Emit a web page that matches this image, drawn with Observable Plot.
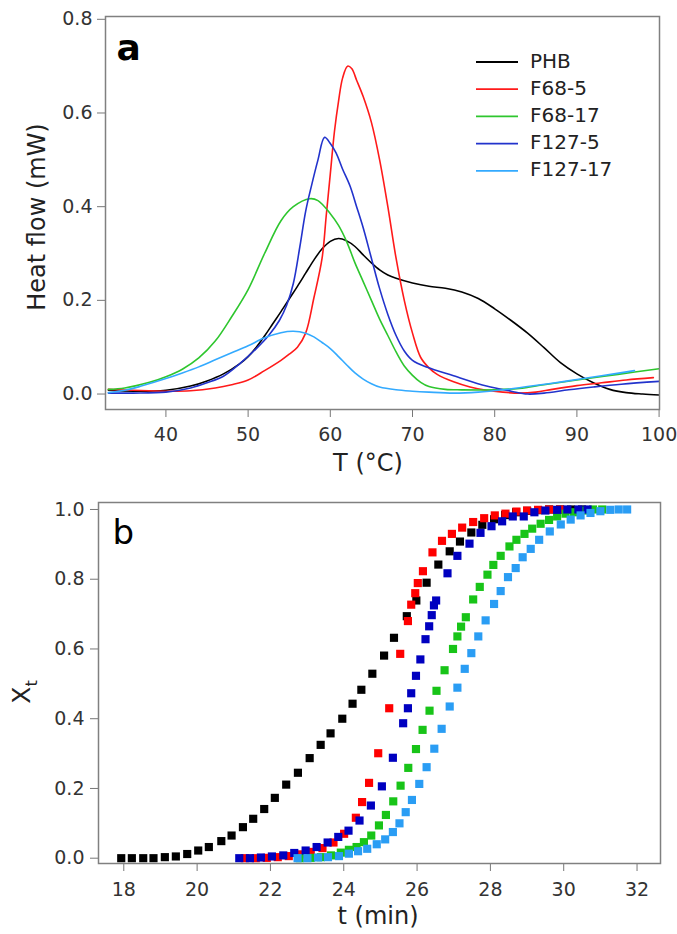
<!DOCTYPE html>
<html><head><meta charset="utf-8">
<script src="https://cdn.jsdelivr.net/npm/d3@7"></script>
<script src="https://cdn.jsdelivr.net/npm/@observablehq/plot@0.6"></script>
<style>
body{margin:0;background:#fff;font-family:"DejaVu Sans",sans-serif}
#wrap{position:relative;width:677px;height:934px;overflow:hidden}
#wrap svg{position:absolute;left:0;overflow:visible}
</style></head>
<body><div id="wrap"></div>
<script>
// ---------- Panel a: DSC heat flow curves ----------
const seriesNames = ["PHB", "F68-5", "F68-17", "F127-5", "F127-17"];
const lineColors = ["#000000", "#ff1a1a", "#2ec62e", "#2233cc", "#33aaff"];
const dotColors = ["#000000", "#ff0000", "#18c418", "#0000c0", "#2a9df4"];

const phbT  = [33,36,40,43,45,47,49,50,51,52,53,54,55,56,57,58,59,60,61,62,63,64,65,66,67,68,70,72,74,76,78,80,82,84,86,88,90,92,94,96,98,100];
const phbHF = [0.008,0.006,0.008,0.017,0.028,0.043,0.065,0.08,0.1,0.124,0.15,0.176,0.203,0.23,0.258,0.286,0.31,0.326,0.332,0.327,0.315,0.297,0.28,0.265,0.254,0.247,0.237,0.23,0.226,0.218,0.204,0.182,0.157,0.13,0.099,0.067,0.043,0.024,0.01,0.003,0.0,-0.002];

const f685T  = [33,36,40,43,46,48,50,52,54,55,56,57,58,59,59.5,60,60.5,61,61.5,62.1,62.6,63.2,64,65,66,67,68,69,70,71,72,73,75,77,79,81,83,85,87,90,93,96,99.3];
const f685HF = [0.01,0.008,0.006,0.007,0.013,0.02,0.03,0.05,0.072,0.085,0.1,0.13,0.205,0.29,0.38,0.47,0.56,0.625,0.675,0.7,0.695,0.67,0.635,0.58,0.5,0.4,0.29,0.2,0.13,0.078,0.056,0.042,0.026,0.015,0.008,0.004,0.002,0.004,0.01,0.018,0.024,0.03,0.035];

const f6817T  = [33,35,38,40,42,44,46,48,50,52,54,55.5,57.5,58.5,60,61,62,63,64,65,66,67,68,69,70,71,72,74,76,80,83,86,90,95,100];
const f6817HF = [0.01,0.013,0.025,0.037,0.053,0.077,0.113,0.165,0.223,0.3,0.37,0.4,0.417,0.413,0.385,0.36,0.325,0.28,0.24,0.2,0.16,0.125,0.09,0.06,0.04,0.025,0.016,0.01,0.009,0.009,0.012,0.02,0.03,0.042,0.054];

const f1275T  = [33,36,40,43,45,47,49,51,52.5,53.8,54.7,55.5,56.3,57,57.7,58.5,59.3,60,60.7,61.5,62.4,63.2,64,65,66,67,68,69,70,71.8,75,79,82,84,86,89,92,95.4,100];
const f1275HF = [0.002,0.002,0.004,0.013,0.024,0.038,0.065,0.097,0.125,0.157,0.19,0.236,0.315,0.39,0.444,0.5,0.548,0.535,0.515,0.48,0.444,0.4,0.355,0.29,0.225,0.17,0.125,0.092,0.072,0.057,0.039,0.017,0.006,0.0,0.002,0.009,0.015,0.021,0.027];

const f12717T  = [33,35,37,40,42,44,46,48,50,52,54,55.5,57,58,59,60,61,62,63,64,65,66,68,70,72,75,78,81,84,87,90,93,97];
const f12717HF = [0.003,0.008,0.017,0.033,0.045,0.058,0.073,0.088,0.103,0.12,0.131,0.134,0.13,0.122,0.11,0.097,0.08,0.062,0.045,0.032,0.022,0.015,0.009,0.006,0.004,0.002,0.004,0.009,0.016,0.023,0.031,0.039,0.05];

const xTicksA = [40, 50, 60, 70, 80, 90, 100];
const yTicksA = [0.0, 0.2, 0.4, 0.6, 0.8];

// ---------- Panel b: relative crystallinity Xt vs time ----------
const phbTime = [17.93,18.22,18.53,18.81,19.12,19.42,19.73,20.03,20.32,20.66,20.94,21.25,21.53,21.83,22.12,22.43,22.75,23.07,23.37,23.64,23.96,24.24,24.48,24.78,25.1,25.37,25.72,25.98,26.26,26.58,26.89,27.17,27.48,27.78,28.1,28.4,28.7,29.0,29.3,29.6,29.9,30.2,30.5];
const phbXt   = [0,0,0,0,0.003,0.005,0.012,0.022,0.032,0.049,0.065,0.089,0.113,0.141,0.173,0.211,0.245,0.287,0.325,0.358,0.4,0.443,0.483,0.529,0.581,0.632,0.694,0.739,0.79,0.842,0.88,0.908,0.934,0.956,0.972,0.984,0.992,0.996,0.998,1,1,1,1];

const f685Time = [21.3,21.6,21.9,22.2,22.5,22.8,23.1,23.42,23.72,24.01,24.33,24.5,24.69,24.94,25.24,25.54,25.75,25.84,25.95,26.02,26.16,26.42,26.68,26.95,27.23,27.53,27.83,28.12,28.41,28.71,29.0,29.3,29.6,29.9];
const f685Xt   = [0,0,0.001,0.003,0.006,0.011,0.018,0.029,0.045,0.07,0.116,0.161,0.216,0.301,0.43,0.586,0.68,0.727,0.76,0.789,0.823,0.877,0.91,0.93,0.948,0.964,0.975,0.983,0.988,0.994,0.997,0.999,1,1];

const f6817Time = [22.8,23.1,23.38,23.65,23.92,24.14,24.35,24.55,24.75,24.96,25.15,25.35,25.55,25.76,25.97,26.15,26.34,26.53,26.75,26.98,27.1,27.2,27.33,27.53,27.71,27.92,28.08,28.28,28.52,28.71,28.93,29.14,29.37,29.6,29.82,30.05,30.28,30.55,30.8,31.05];
const f6817Xt   = [0,0.001,0.003,0.008,0.016,0.024,0.032,0.046,0.065,0.094,0.124,0.163,0.208,0.259,0.313,0.368,0.423,0.48,0.539,0.6,0.636,0.664,0.691,0.742,0.778,0.813,0.841,0.867,0.894,0.913,0.93,0.945,0.959,0.97,0.98,0.988,0.992,0.997,1,1];

const f1275Time = [21.15,21.44,21.74,22.04,22.35,22.65,22.96,23.26,23.56,23.85,24.13,24.43,24.74,25.04,25.34,25.62,25.75,25.84,25.97,26.09,26.23,26.33,26.4,26.46,26.52,26.83,27.1,27.43,27.73,28.03,28.32,28.61,28.91,29.2,29.5,29.82,30.1,30.4,30.65];
const f1275Xt   = [0,0,0.002,0.005,0.008,0.015,0.022,0.032,0.045,0.061,0.079,0.108,0.151,0.206,0.288,0.387,0.43,0.473,0.523,0.57,0.628,0.665,0.697,0.725,0.739,0.817,0.867,0.902,0.933,0.952,0.966,0.98,0.98,0.992,0.997,0.999,1,1,1];

const f12717Time = [22.74,23.01,23.3,23.57,23.87,24.14,24.39,24.64,24.9,25.13,25.34,25.52,25.69,25.86,26.06,26.26,26.47,26.67,26.89,27.1,27.3,27.48,27.67,27.87,28.1,28.28,28.48,28.69,28.88,29.1,29.33,29.62,29.92,30.19,30.46,30.73,31.0,31.27,31.5,31.73];
const f12717Xt   = [0,0,0.002,0.003,0.006,0.013,0.02,0.027,0.04,0.054,0.075,0.1,0.132,0.167,0.213,0.261,0.314,0.371,0.435,0.489,0.543,0.588,0.636,0.682,0.729,0.766,0.806,0.832,0.863,0.887,0.913,0.937,0.957,0.971,0.983,0.99,0.995,0.999,1,1];

const xTicksB = [18, 20, 22, 24, 26, 28, 30, 32];
const yTicksB = [0.0, 0.2, 0.4, 0.6, 0.8, 1.0];

// ---------- build tables ----------
const curveT = [phbT, f685T, f6817T, f1275T, f12717T];
const curveV = [phbHF, f685HF, f6817HF, f1275HF, f12717HF];
const rowsA = [];
seriesNames.forEach((s, i) => curveT[i].forEach((t, j) => rowsA.push({series: s, T: t, v: curveV[i][j]})));

const ptT = [phbTime, f685Time, f6817Time, f1275Time, f12717Time];
const ptX = [phbXt, f685Xt, f6817Xt, f1275Xt, f12717Xt];
const rowsB = [];
seriesNames.forEach((s, i) => ptT[i].forEach((t, j) => rowsB.push({series: s, t: t, x: ptX[i][j]})));

const FONT = "DejaVu Sans";
const wrap = document.getElementById("wrap");

// ---------- Panel a ----------
const HA = 480;
const chartA = Plot.plot({
  width: 677, height: HA,
  marginLeft: 105, marginRight: 18, marginTop: 16, marginBottom: 71,
  style: {fontFamily: FONT, fontSize: "19px", color: "#333", background: "transparent"},
  x: {domain: [32.65, 100.05], label: null},
  y: {domain: [-0.033, 0.806], label: null},
  color: {domain: seriesNames, range: lineColors},
  marks: [
    Plot.axisX({ticks: xTicksA, tickSize: 8, tickPadding: 10, stroke: "#777", tickFormat: d => String(d), label: null}),
    Plot.axisY({ticks: yTicksA, tickSize: 8, tickPadding: 5, stroke: "#777", tickFormat: d => d.toFixed(1), label: null}),
    Plot.line(rowsA, {x: "T", y: "v", z: "series", stroke: "series", curve: "catmull-rom", strokeWidth: 1.6}),
    Plot.frame({stroke: "#808080", strokeWidth: 1.5}),
    Plot.text(["a"], {frameAnchor: "top-left", textAnchor: "start", lineAnchor: "bottom", dx: 11, dy: 43, fontSize: 36, fontWeight: "bold", fill: "#000"})
  ]
});
chartA.style.top = "0px";
wrap.appendChild(chartA);

const svgA = d3.select(chartA);
svgA.append("text").attr("transform", "translate(38,217) rotate(-90)").attr("text-anchor", "middle")
  .attr("dominant-baseline", "middle").attr("font-family", FONT).attr("font-size", 24).attr("fill", "#222").text("Heat flow (mW)");
svgA.append("text").attr("x", 368).attr("y", 471).attr("text-anchor", "middle")
  .attr("font-family", FONT).attr("font-size", 24).attr("fill", "#222").text("T (°C)");
const leg = svgA.append("g").attr("text-anchor", "start");
seriesNames.forEach((s, i) => {
  const y = 62 + i * 27.2;
  leg.append("line").attr("x1", 476).attr("x2", 518).attr("y1", y).attr("y2", y)
    .attr("stroke", lineColors[i]).attr("stroke-width", 1.8);
  leg.append("text").attr("x", 530).attr("y", y).attr("dominant-baseline", "middle").attr("text-anchor", "start")
    .attr("font-family", FONT).attr("font-size", 20).attr("fill", "#222").text(s);
});

// ---------- Panel b ----------
const TOPB = 480, HB = 934 - TOPB;
const chartB = Plot.plot({
  width: 677, height: HB,
  marginLeft: 98, marginRight: 17, marginTop: 22, marginBottom: 71,
  style: {fontFamily: FONT, fontSize: "19px", color: "#333", background: "transparent"},
  x: {domain: [17.31, 32.64], label: null},
  y: {domain: [-0.0152, 1.02], label: null},
  color: {domain: seriesNames, range: dotColors},
  marks: [
    Plot.axisX({ticks: xTicksB, tickSize: 8, tickPadding: 11, stroke: "#777", tickFormat: d => String(d), label: null}),
    Plot.axisY({ticks: yTicksB, tickSize: 8, tickPadding: 6, stroke: "#777", tickFormat: d => d.toFixed(1), label: null}),
    Plot.dot(rowsB, {x: "t", y: "x", fill: "series", symbol: "square", r: 4.6, stroke: null}),
    Plot.frame({stroke: "#808080", strokeWidth: 1.5}),
    Plot.text(["b"], {frameAnchor: "top-left", textAnchor: "start", lineAnchor: "bottom", dx: 14, dy: 41, fontSize: 34, fill: "#000"})
  ]
});
chartB.style.top = TOPB + "px";
wrap.appendChild(chartB);

const svgB = d3.select(chartB);
const xt = svgB.append("text").attr("transform", "translate(30,212) rotate(-90)").attr("text-anchor", "middle")
  .attr("font-family", FONT).attr("font-size", 25).attr("fill", "#222");
xt.append("tspan").text("X");
xt.append("tspan").attr("font-size", 16).attr("dy", 7).text("t");
svgB.append("text").attr("x", 378).attr("y", 444).attr("text-anchor", "middle")
  .attr("font-family", FONT).attr("font-size", 24).attr("fill", "#222").text("t (min)");
</script>
</body></html>
